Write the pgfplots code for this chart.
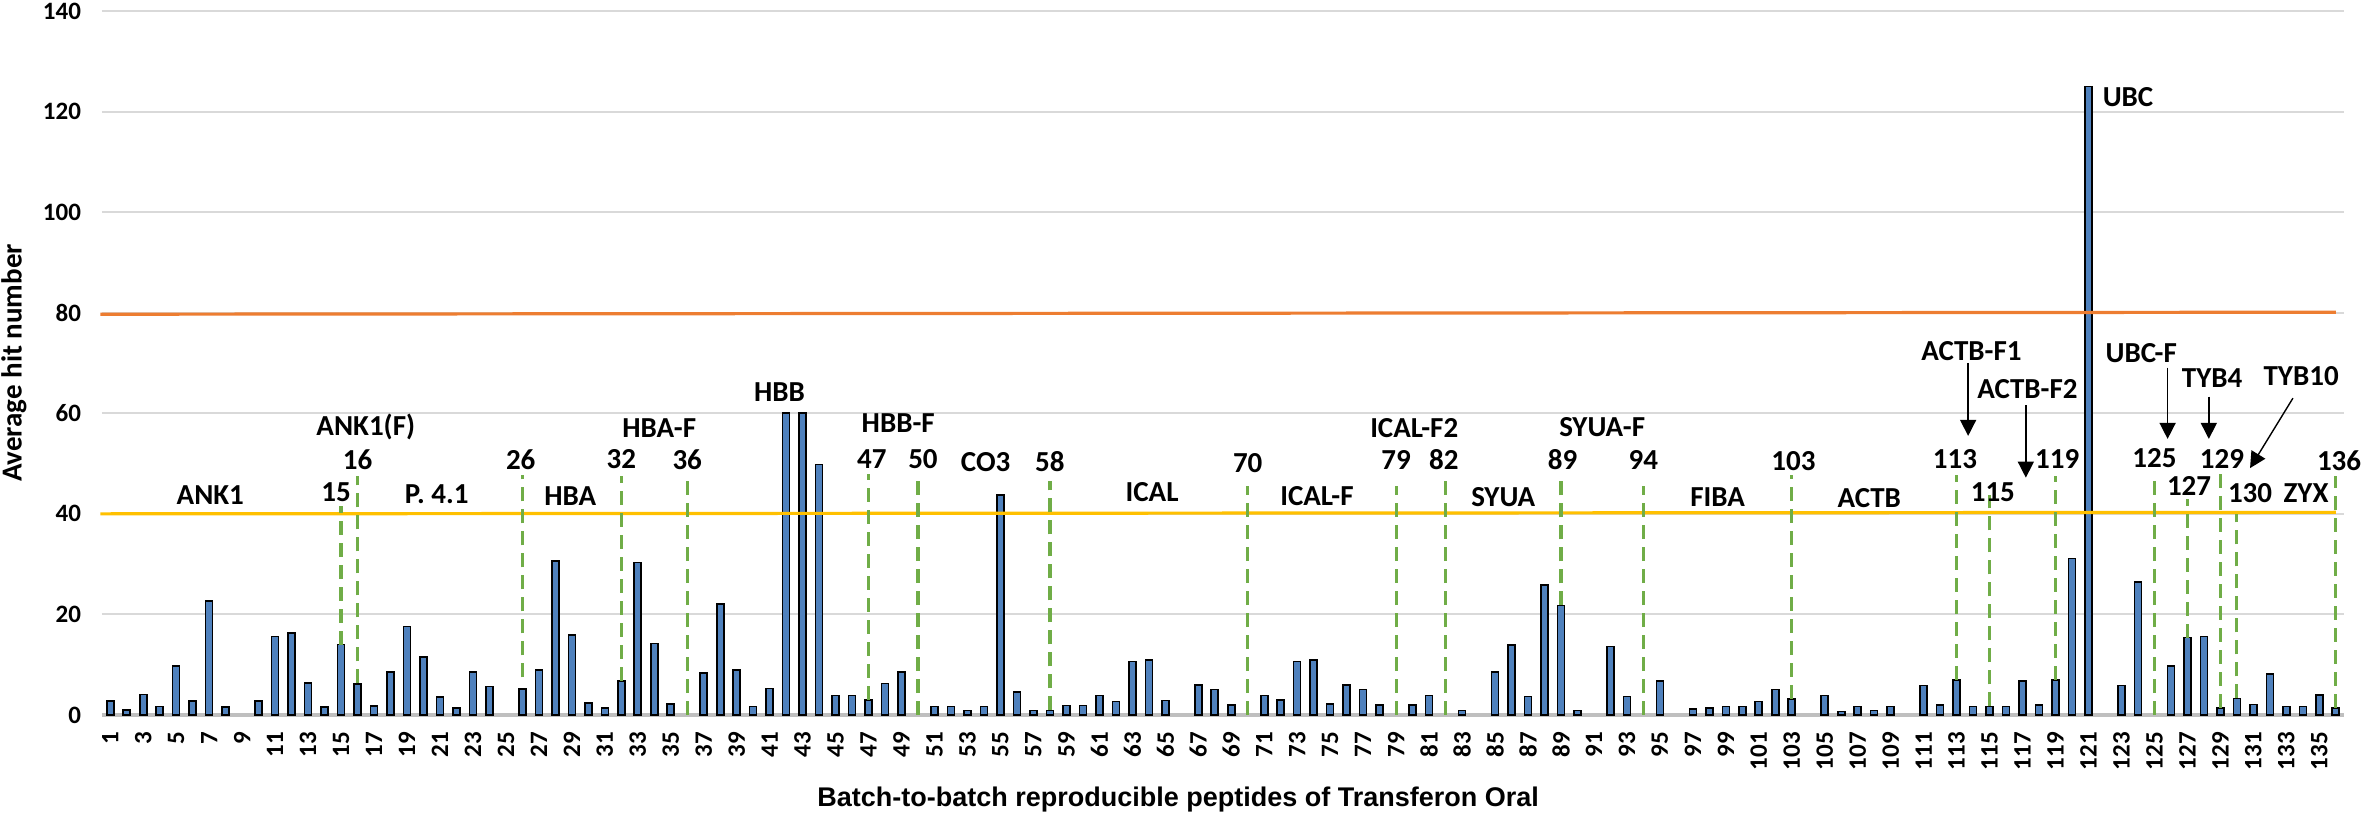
\documentclass[border=0pt]{standalone}
\usepackage{fontspec}
\setmainfont{Carlito}
\newfontfamily\arialfont{Liberation Sans}
\usepackage{pgfplots}
\pgfplotsset{compat=1.18}
\usetikzlibrary{arrows.meta}
\definecolor{barblue}{RGB}{79,129,189}
\definecolor{lorange}{RGB}{237,125,49}
\definecolor{lyellow}{RGB}{255,192,0}
\definecolor{lgreen}{RGB}{112,173,71}
\definecolor{gridgray}{RGB}{217,217,217}
\definecolor{axisgray}{RGB}{191,191,191}
\newcommand{\lab}{\bfseries\fontsize{14.5}{14.5}\selectfont}
\begin{document}
\begin{tikzpicture}
\useasboundingbox (-51pt,-49.5pt) rectangle (1130pt,357.5pt);
\begin{axis}[
  at={(0,0)}, anchor=south west,
  scale only axis, width=1121pt, height=352pt,
  xmin=0.5, xmax=136.5, ymin=0, ymax=140,
  axis line style={draw=none},
  ytick={0,20,...,140}, xtick={1,3,...,135},
  major tick length=0pt,
  ymajorgrids, grid style={gridgray, line width=1pt},
  extra y ticks={0}, extra y tick labels={},
  extra y tick style={grid style={axisgray, line width=1.6pt}},
  /pgf/number format/assume math mode=true,
  yticklabel style={font=\bfseries\fontsize{12.5}{12.5}\selectfont},
  yticklabel shift=7pt,
  xticklabel style={font=\bfseries\fontsize{12.5}{12.5}\selectfont, rotate=90, anchor=east},
  xticklabel shift=5pt,
  ylabel={Average hit number},
  ylabel style={at={(axis description cs:-0.0393,0.5)}, anchor=center, font=\bfseries\fontsize{14.5}{14.5}\selectfont},
  xlabel={Batch-to-batch reproducible peptides of Transferon Oral},
  xlabel style={at={(axis description cs:0.480,-0.1207)}, anchor=center, font=\arialfont\bfseries\fontsize{13.5}{13.5}\selectfont},
  clip=false,
]
\addplot[ybar, bar width=3.5pt, fill=barblue, draw=black, line width=0.8pt] coordinates {
(1,2.8) (2,1.0) (3,4.1) (4,1.7) (5,9.8) (6,2.8) (7,22.7) (8,1.6) (10,2.8)
(11,15.6) (12,16.3) (13,6.4) (14,1.6) (15,14.0) (16,6.2) (17,1.8) (18,8.5) (19,17.6) (20,11.5)
(21,3.6) (22,1.4) (23,8.5) (24,5.7) (26,5.2) (27,9.0) (28,30.6) (29,15.9) (30,2.4)
(31,1.4) (32,6.8) (33,30.3) (34,14.2) (35,2.2) (37,8.3) (38,22.1) (39,8.9) (40,1.7)
(41,5.3) (42,60) (43,60) (44,49.8) (45,3.9) (46,3.9) (47,3.0) (48,6.3) (49,8.6)
(51,1.7) (52,1.7) (53,0.9) (54,1.7) (55,43.7) (56,4.6) (57,0.9) (58,0.9) (59,1.9) (60,1.9)
(61,3.9) (62,2.7) (63,10.6) (64,10.9) (65,2.9) (67,6.0) (68,5.1) (69,2.0)
(71,3.9) (72,3.0) (73,10.6) (74,10.9) (75,2.2) (76,6.0) (77,5.1) (78,2.0) (80,2.0)
(81,3.9) (83,0.9) (85,8.6) (86,13.9) (87,3.7) (88,25.9) (89,21.8) (90,0.9)
(92,13.6) (93,3.7) (95,6.8) (97,1.2) (98,1.4) (99,1.7) (100,1.7)
(101,2.7) (102,5.1) (103,3.2) (105,3.9) (106,0.7) (107,1.7) (108,0.9) (109,1.7)
(111,5.9) (112,2.0) (113,7.0) (114,1.7) (115,1.7) (116,1.7) (117,6.8) (118,2.0) (119,7.0) (120,31.1)
(121,125) (123,5.9) (124,26.5) (126,9.7) (127,15.4) (128,15.6) (129,1.4) (130,3.3)
(131,2.1) (132,8.1) (133,1.7) (134,1.7) (135,4.0) (136,1.4)
};
\addplot[lorange, line width=1.6pt] coordinates {(0.4,79.7) (136,80.1)};
\addplot[lyellow, line width=1.6pt] coordinates {(0.4,40.0) (136,40.3)};
\addplot[lgreen, line width=1.6pt, dash pattern=on 7pt off 4pt, unbounded coords=jump] coordinates {
(15,14.0) (15,41.5) (15,nan)
(16,6.3) (16,47.5) (16,nan)
(26,7.5) (26,47.8) (26,nan)
(32,6.8) (32,47.6) (32,nan)
(36,0) (36,47.8) (36,nan)
(47,3.0) (47,48.0) (47,nan)
(50,0) (50,47.7) (50,nan)
(58,0.9) (58,46.6) (58,nan)
(70,0) (70,45.6) (70,nan)
(79,0) (79,45.6) (79,nan)
(82,0) (82,47.8) (82,nan)
(89,21.8) (89,46.8) (89,nan)
(94,0) (94,45.6) (94,nan)
(103,3.2) (103,47.8) (103,nan)
(113,7.0) (113,47.8) (113,nan)
(115,1.7) (115,43.7) (115,nan)
(119,7.0) (119,47.6) (119,nan)
(125,0) (125,47.9) (125,nan)
(127,15.4) (127,42.9) (127,nan)
(129,1.4) (129,48.0) (129,nan)
(130,3.3) (130,40.0) (130,nan)
(136,1.4) (136,47.6)
};
\begin{scope}[every node/.style={font=\lab, inner sep=0pt}]
\node at (axis cs:7.07,43.7) {ANK1};
\node at (axis cs:14.7,44.3) {15};
\node at (axis cs:16.0,50.7) {16};
\node at (axis cs:16.5,57.3) {ANK1(F)};
\node at (axis cs:20.8,43.9) {P. 4.1};
\node at (axis cs:25.9,50.7) {26};
\node at (axis cs:28.9,43.6) {HBA};
\node at (axis cs:32.0,50.8) {32};
\node at (axis cs:34.3,57.1) {HBA-F};
\node at (axis cs:36.0,50.8) {36};
\node at (axis cs:41.6,64.2) {HBB};
\node at (axis cs:48.8,58.1) {HBB-F};
\node at (axis cs:47.2,50.8) {47};
\node at (axis cs:50.3,50.8) {50};
\node at (axis cs:54.1,50.3) {CO3};
\node at (axis cs:58.0,50.3) {58};
\node at (axis cs:64.2,44.4) {ICAL};
\node at (axis cs:70.0,50.0) {70};
\node at (axis cs:74.2,43.6) {ICAL-F};
\node at (axis cs:80.1,57.0) {ICAL-F2};
\node at (axis cs:79.0,50.7) {79};
\node at (axis cs:81.9,50.7) {82};
\node at (axis cs:85.5,43.4) {SYUA};
\node at (axis cs:91.5,57.2) {SYUA-F};
\node at (axis cs:89.1,50.7) {89};
\node at (axis cs:94.0,50.7) {94};
\node at (axis cs:98.5,43.4) {FIBA};
\node at (axis cs:103.1,50.4) {103};
\node at (axis cs:107.7,43.2) {ACTB};
\node at (axis cs:112.9,50.8) {113};
\node at (axis cs:115.2,44.3) {115};
\node at (axis cs:119.1,51.0) {119};
\node at (axis cs:113.9,72.4) {ACTB-F1};
\node at (axis cs:117.3,64.8) {ACTB-F2};
\node at (axis cs:123.4,122.8) {UBC};
\node at (axis cs:124.2,72.0) {UBC-F};
\node at (axis cs:128.5,66.9) {TYB4};
\node at (axis cs:133.9,67.4) {TYB10};
\node at (axis cs:125.0,51.0) {125};
\node at (axis cs:127.1,45.5) {127};
\node at (axis cs:129.1,51.0) {129};
\node at (axis cs:130.8,44.2) {130};
\node at (axis cs:134.2,44.2) {ZYX};
\node at (axis cs:136.2,50.6) {136};
\end{scope}
\begin{scope}[-{Triangle[width=8pt,length=8pt]}, line width=0.7pt, black]
\draw (axis cs:113.7,70.0) -- (axis cs:113.7,55.5);
\draw (axis cs:117.2,61.6) -- (axis cs:117.2,47.2);
\draw (axis cs:125.8,69.1) -- (axis cs:125.8,54.9);
\draw (axis cs:128.3,63.3) -- (axis cs:128.3,54.9);
\draw (axis cs:133.4,63.0) -- (axis cs:130.8,49.1);
\end{scope}
\end{axis}
\end{tikzpicture}
\end{document}
